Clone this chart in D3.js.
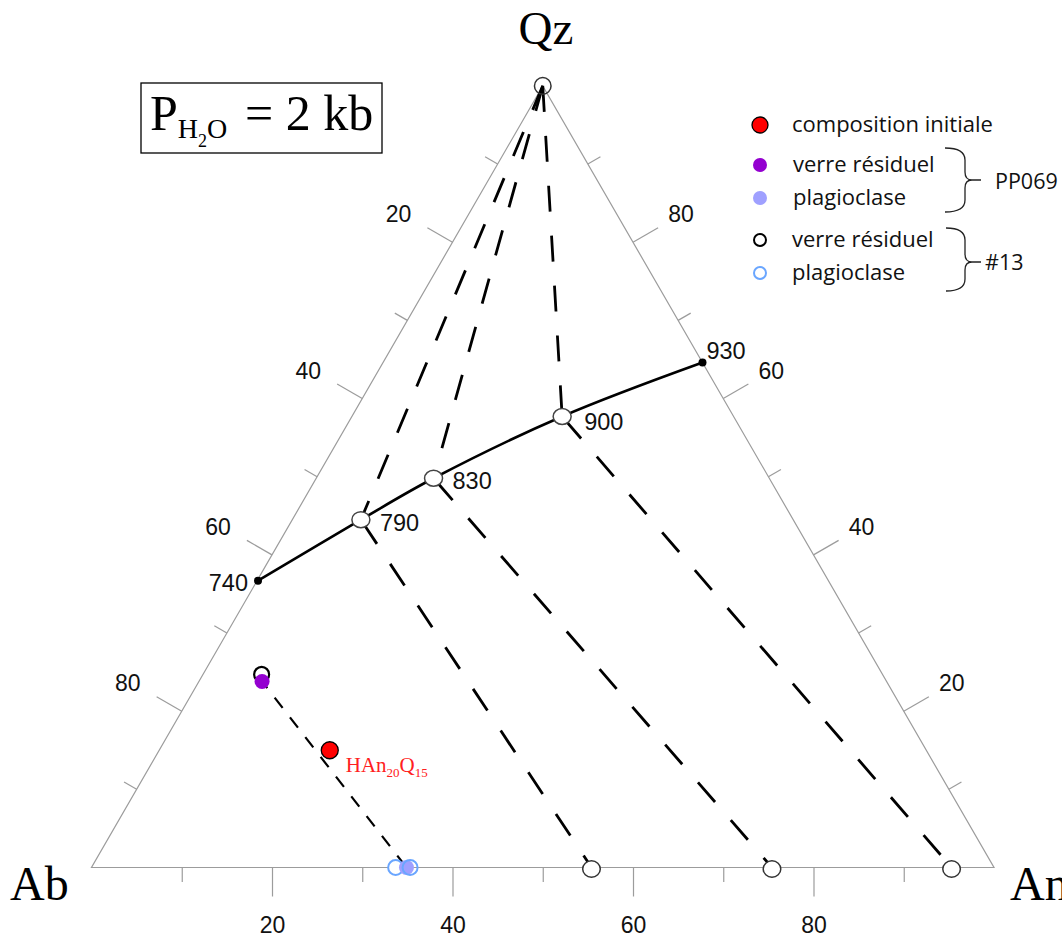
<!DOCTYPE html>
<html><head><meta charset="utf-8">
<script src="https://cdn.jsdelivr.net/npm/d3@7"></script>
<style>body{margin:0;background:#fff}</style>
</head><body><svg id="c" width="1062" height="939"></svg>
<script>
// ---------- data ----------
const tickValues = [10, 20, 30, 40, 50, 60, 70, 80, 90];
const tickLabels = [20, 40, 60, 80];
const vertexLabels = ["Ab", "An", "Qz"];

// cotectic line (temperature, composition Ab/An/Qz)
const cotecticT  = [740, 790, 830, 900, 930];
const cotecticAb = [63.2, 47.9, 37.2, 19.0, 0.0];
const cotecticAn = [0.1, 7.6, 13.0, 23.3, 35.4];
const cotecticQz = [36.7, 44.5, 49.8, 57.7, 64.6];

// #13 plagioclase at cotectic (Qz = 0)
const plag13An = [55.4, 75.4, 95.3];
const tieCotecticIndex = [1, 2, 3];
const quartzApex = [0, 0, 100];

// PP069 and #13 low-temperature experiment (Ab, An, Qz)
const initialComp = [66.1, 18.9, 15.0];
const pp069Glass  = [69.2, 7.0, 23.8];
const pp069Plag   = [65.1, 34.9, 0];
const glass13     = [68.8, 6.5, 24.7];
const plag13Low   = [[66.3, 33.7, 0], [64.7, 35.3, 0]];

const legendLabels = ["composition initiale", "verre résiduel", "plagioclase", "verre résiduel", "plagioclase"];
const groupLabels = ["PP069", "#13"];

// ---------- setup ----------
const svg = d3.select("#c");
const X = d3.scaleLinear().domain([0, 100]).range([91.5, 994]);
const Y = d3.scaleLinear().domain([0, 100]).range([867.5, 867.5 - 902.5 * Math.sqrt(3) / 2]);
const P = (ab, an, qz) => [X(an + qz / 2), Y(qz)];
const SANS = "'Liberation Sans', Arial, Helvetica, sans-serif";
const SERIF = "'Liberation Serif', 'Times New Roman', serif";
const LEG = "'Open Sans', 'Noto Sans', sans-serif";
const GREY = "#9c9c9c";

// triangle
const corners = [P(100, 0, 0), P(0, 100, 0), P(0, 0, 100)];
svg.append("path").attr("d", d3.line()(corners) + "Z")
  .attr("fill", "none").attr("stroke", GREY).attr("stroke-width", 1.2);

// bottom axis (An)
const gB = svg.append("g").attr("transform", `translate(0,${Y(0)})`)
  .call(d3.axisBottom(X).tickValues(tickValues).tickSize(29).tickPadding(23)
    .tickFormat(d => tickLabels.includes(d) ? d : ""));
gB.select(".domain").remove();
gB.selectAll(".tick line").attr("stroke", GREY).attr("stroke-width", 1.2)
  .attr("y2", d => tickLabels.includes(d) ? 29 : 14.5);
gB.selectAll(".tick text").attr("font-family", SANS).attr("font-size", 23).attr("fill", "#111")
  .attr("y", 65).attr("dy", 0);

// side axes
function sideAxis(ptFn, dir, lblOff) {
  const g = svg.append("g");
  tickValues.forEach(v => {
    const [x0, y0] = ptFn(v);
    const len = tickLabels.includes(v) ? 29 : 14.5;
    g.append("line").attr("x1", x0).attr("y1", y0)
      .attr("x2", x0 + dir[0] * len).attr("y2", y0 + dir[1] * len)
      .attr("stroke", GREY).attr("stroke-width", 1.2);
    if (tickLabels.includes(v)) {
      g.append("text").attr("x", x0 + lblOff[0]).attr("y", y0 + lblOff[1])
        .attr("dy", "0.35em").attr("text-anchor", "middle")
        .attr("font-family", SANS).attr("font-size", 23).attr("fill", "#111").text(v);
    }
  });
}
sideAxis(v => P(v, 0, 100 - v), [-Math.sqrt(3) / 2, -0.5], [-54, -28]);  // Ab (left)
sideAxis(v => P(0, 100 - v, v), [Math.sqrt(3) / 2, -0.5], [48, -28]);    // Qz (right)

// vertex labels
svg.append("text").attr("x", 10).attr("y", 900).attr("font-family", SERIF).attr("font-size", 48).text(vertexLabels[0]);
svg.append("text").attr("x", 1010).attr("y", 900).attr("font-family", SERIF).attr("font-size", 48).text(vertexLabels[1]);
svg.append("text").attr("x", 546).attr("y", 44).attr("text-anchor", "middle").attr("font-family", SERIF).attr("font-size", 47).text(vertexLabels[2]);

// tie lines (dashed)
const line = d3.line();
const cot = cotecticT.map((t, i) => P(cotecticAb[i], cotecticAn[i], cotecticQz[i]));
const apex = P(...quartzApex);
tieCotecticIndex.forEach((ci, k) => {
  svg.append("path").attr("d", line([apex, cot[ci]]))
    .attr("fill", "none").attr("stroke", "#000").attr("stroke-width", 2.8).attr("stroke-dasharray", "26,24");
  svg.append("path").attr("d", line([cot[ci], P(100 - plag13An[k], plag13An[k], 0)]))
    .attr("fill", "none").attr("stroke", "#000").attr("stroke-width", 2.8)
    .attr("stroke-dasharray", "26,24").attr("stroke-dashoffset", -3);
});

// PP069 tie line
svg.append("path").attr("d", line([P(...pp069Glass), P(...pp069Plag)]))
  .attr("fill", "none").attr("stroke", "#000").attr("stroke-width", 2.2)
  .attr("stroke-dasharray", "13,12").attr("stroke-dashoffset", 4.5);

// cotectic curve
svg.append("path").attr("d", d3.line().curve(d3.curveCatmullRom.alpha(0.5))(cot))
  .attr("fill", "none").attr("stroke", "#000").attr("stroke-width", 2.6);

// cotectic points
cot.forEach((p, i) => {
  if (i === 0 || i === cot.length - 1) {
    svg.append("circle").attr("cx", p[0]).attr("cy", p[1]).attr("r", 4).attr("fill", "#000");
  } else {
    svg.append("ellipse").attr("cx", p[0]).attr("cy", p[1]).attr("rx", 9).attr("ry", 8)
      .attr("fill", "#fff").attr("stroke", "#444").attr("stroke-width", 1.5);
  }
});
const tOff = [[-10, 2, "end"], [19, 3, "start"], [19, 3, "start"], [22, 5, "start"], [4, -12, "start"]];
cot.forEach((p, i) => {
  svg.append("text").attr("x", p[0] + tOff[i][0]).attr("y", p[1] + tOff[i][1]).attr("dy", "0.35em")
    .attr("text-anchor", tOff[i][2]).attr("font-family", SANS).attr("font-size", 23.5).attr("fill", "#111")
    .text(cotecticT[i]);
});

// apex quartz circle
svg.append("circle").attr("cx", apex[0]).attr("cy", apex[1]).attr("r", 8.3)
  .attr("fill", "none").attr("stroke", "#333").attr("stroke-width", 1.5);

// #13 plagioclases on cotectic ties
plag13An.forEach(a => {
  const p = P(100 - a, a, 0);
  svg.append("ellipse").attr("cx", p[0]).attr("cy", p[1] + 1.5).attr("rx", 8.8).attr("ry", 8.2)
    .attr("fill", "#fff").attr("stroke", "#333").attr("stroke-width", 1.5);
});

// lower-left experiment
const g13 = P(...glass13);
svg.append("circle").attr("cx", g13[0]).attr("cy", g13[1]).attr("r", 7.5)
  .attr("fill", "#fff").attr("stroke", "#000").attr("stroke-width", 2.2);
const pg = P(...pp069Glass);
svg.append("circle").attr("cx", pg[0]).attr("cy", pg[1]).attr("r", 7.5).attr("fill", "#9400d0");
const pl0 = P(...plag13Low[0]);
svg.append("circle").attr("cx", pl0[0]).attr("cy", pl0[1]).attr("r", 7.5)
  .attr("fill", "#fff").attr("stroke", "#6aa6ff").attr("stroke-width", 2);
const pp = P(...pp069Plag);
svg.append("circle").attr("cx", pp[0]).attr("cy", pp[1]).attr("r", 7.5).attr("fill", "#9fa0ff");
const pl1 = P(...plag13Low[1]);
svg.append("circle").attr("cx", pl1[0]).attr("cy", pl1[1]).attr("r", 7.5)
  .attr("fill", "none").attr("stroke", "#6aa6ff").attr("stroke-width", 2);
const ic = P(...initialComp);
svg.append("circle").attr("cx", ic[0]).attr("cy", ic[1]).attr("r", 8.5)
  .attr("fill", "#ff0000").attr("stroke", "#000").attr("stroke-width", 1.3);

// HAn20Q15 label
const lab = svg.append("text").attr("x", ic[0] + 16).attr("y", ic[1] + 22)
  .attr("font-family", SERIF).attr("font-size", 21).attr("fill", "#ff2020");
lab.append("tspan").text("HAn");
lab.append("tspan").attr("font-size", 13).attr("dy", 5).text("20");
lab.append("tspan").attr("dy", -5).text("Q");
lab.append("tspan").attr("font-size", 13).attr("dy", 5).text("15");

// pressure box
svg.append("rect").attr("x", 141).attr("y", 83).attr("width", 241).attr("height", 70)
  .attr("fill", "none").attr("stroke", "#000").attr("stroke-width", 1.3);
const pt = svg.append("text").attr("x", 150).attr("y", 130).attr("font-family", SERIF).attr("font-size", 50).attr("fill", "#000");
pt.append("tspan").text("P");
pt.append("tspan").attr("font-size", 28).attr("dy", 8).text("H");
pt.append("tspan").attr("font-size", 18).attr("dy", 9).text("2");
pt.append("tspan").attr("font-size", 28).attr("dy", -9).text("O");
pt.append("tspan").attr("x", 245).attr("dy", -8).text("= 2 kb");

// legend
const legY = [125, 165, 198, 240, 273];
const legG = svg.append("g");
legG.append("circle").attr("cx", 760).attr("cy", legY[0]).attr("r", 8).attr("fill", "#ff0000").attr("stroke", "#000").attr("stroke-width", 1.3);
legG.append("circle").attr("cx", 760).attr("cy", legY[1]).attr("r", 7).attr("fill", "#9400d0");
legG.append("circle").attr("cx", 760).attr("cy", legY[2]).attr("r", 7).attr("fill", "#9fa0ff");
legG.append("circle").attr("cx", 760).attr("cy", legY[3]).attr("r", 6).attr("fill", "none").attr("stroke", "#000").attr("stroke-width", 2);
legG.append("circle").attr("cx", 760).attr("cy", legY[4]).attr("r", 6).attr("fill", "none").attr("stroke", "#6aa6ff").attr("stroke-width", 2);
legendLabels.forEach((t, i) => {
  legG.append("text").attr("x", i === 0 || i === 3 || i === 4 ? 792 : 793).attr("y", legY[i] + 7)
    .attr("font-family", LEG).attr("font-size", 22).attr("fill", "#111").text(t);
});
function brace(xl, yTop, yBot, yTip) {
  const xm = 965, xt = 981;
  return `M${xl},${yTop} Q${xm},${yTop} ${xm},${yTop + 12} L${xm},${yTip - 8} Q${xm},${yTip} ${xm + 7},${yTip} L${xt},${yTip}` +
         ` M${xm + 7},${yTip} Q${xm},${yTip} ${xm},${yTip + 8} L${xm},${yBot - 12} Q${xm},${yBot} ${xl},${yBot}`;
}
legG.append("path").attr("d", brace(945, 148, 212, 180)).attr("fill", "none").attr("stroke", "#222").attr("stroke-width", 1.3);
legG.append("path").attr("d", brace(946, 228, 291, 262)).attr("fill", "none").attr("stroke", "#222").attr("stroke-width", 1.3);
legG.append("text").attr("x", 995).attr("y", 189).attr("font-family", LEG).attr("font-size", 21.5).attr("fill", "#111").text(groupLabels[0]);
legG.append("text").attr("x", 985).attr("y", 270).attr("font-family", LEG).attr("font-size", 21.5).attr("fill", "#111").text(groupLabels[1]);
</script>
</body></html>
